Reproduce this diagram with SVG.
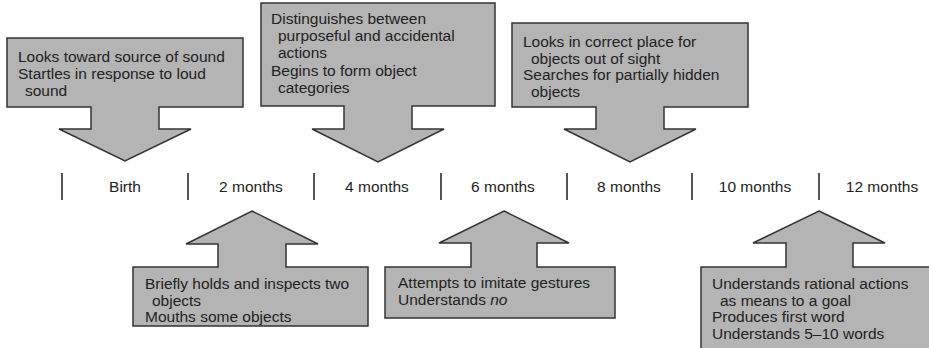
<svg xmlns="http://www.w3.org/2000/svg" width="929" height="348" viewBox="0 0 929 348">
<style>
.call{fill:#b4b4b4;stroke:#333;stroke-width:1.5;stroke-linejoin:miter}
.t{font-family:"Liberation Sans",Arial,Helvetica,sans-serif;font-size:15.5px;fill:#222}
.lbl{font-family:"Liberation Sans",Arial,Helvetica,sans-serif;font-size:15.5px;fill:#222;text-anchor:middle}
.tick{stroke:#555;stroke-width:2}
</style>
<rect width="929" height="348" fill="#fff"/>
<g id="timeline">
<line class="tick" x1="62" y1="173" x2="62" y2="200"/>
<line class="tick" x1="188" y1="173" x2="188" y2="200"/>
<line class="tick" x1="314" y1="173" x2="314" y2="200"/>
<line class="tick" x1="441" y1="173" x2="441" y2="200"/>
<line class="tick" x1="567" y1="173" x2="567" y2="200"/>
<line class="tick" x1="692" y1="173" x2="692" y2="200"/>
<line class="tick" x1="819" y1="173" x2="819" y2="200"/>
<text class="lbl" x="125" y="192">Birth</text>
<text class="lbl" x="251" y="192">2 months</text>
<text class="lbl" x="377" y="192">4 months</text>
<text class="lbl" x="503" y="192">6 months</text>
<text class="lbl" x="629" y="192">8 months</text>
<text class="lbl" x="755" y="192">10 months</text>
<text class="lbl" x="882" y="192">12 months</text>
</g>
<g id="birth">
<path class="call" d="M7,38 H243 V107 H159 V129 H191 L125,161 L59,129 H91 V107 H7 Z"/>
<text class="t" x="18" y="62">Looks toward source of sound</text>
<text class="t" x="18" y="79">Startles in response to loud</text>
<text class="t" x="25" y="96">sound</text>
</g>
<g id="m4">
<path class="call" d="M261,3 H495 V106 H412 V129 H444 L378,162 L312,129 H344 V106 H261 Z"/>
<text class="t" x="271" y="24">Distinguishes between</text>
<text class="t" x="278" y="41">purposeful and accidental</text>
<text class="t" x="278" y="58">actions</text>
<text class="t" x="271" y="76">Begins to form object</text>
<text class="t" x="278" y="93">categories</text>
</g>
<g id="m8">
<path class="call" d="M512,23 H748 V107 H664 V129 H696 L630,162 L564,129 H596 V107 H512 Z"/>
<text class="t" x="523" y="47">Looks in correct place for</text>
<text class="t" x="531" y="63.5">objects out of sight</text>
<text class="t" x="523" y="80">Searches for partially hidden</text>
<text class="t" x="531" y="96.5">objects</text>
</g>
<g id="m2">
<path class="call" d="M252,211 L318,244 H286 V267 H368 V326 H133 V267 H218 V244 H186 Z"/>
<text class="t" x="145" y="289">Briefly holds and inspects two</text>
<text class="t" x="152" y="305.5">objects</text>
<text class="t" x="145" y="322">Mouths some objects</text>
</g>
<g id="m6">
<path class="call" d="M504,211 L569,243 H537 V267 H615 V318 H385 V267 H471 V243 H439 Z"/>
<text class="t" x="398" y="288">Attempts to imitate gestures</text>
<text class="t" x="398" y="304.5">Understands <tspan font-style="italic">no</tspan></text>
</g>
<g id="m12">
<path class="call" d="M819,211 L885,243 H853 V267 H940 V360 H701 V267 H786 V243 H753 Z"/>
<text class="t" x="712" y="289">Understands rational actions</text>
<text class="t" x="720" y="305.5">as means to a goal</text>
<text class="t" x="712" y="322">Produces first word</text>
<text class="t" x="712" y="338.5">Understands 5–10 words</text>
</g>
</svg>
